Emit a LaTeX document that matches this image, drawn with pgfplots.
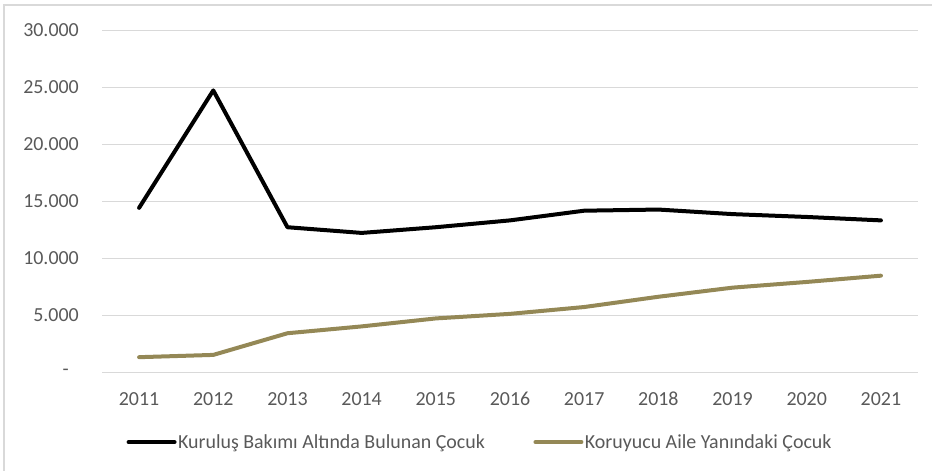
\documentclass[border=0pt]{standalone}
\usepackage{fontspec}
\setmainfont{Carlito}
\usepackage{pgfplots}
\pgfplotsset{compat=1.18}
\definecolor{txtgray}{RGB}{89,89,89}
\definecolor{gridgray}{RGB}{217,217,217}
\definecolor{gold}{RGB}{148,136,86}
\newcommand{\lblfont}{\fontsize{20}{24}\selectfont}

\begin{document}
\begin{tikzpicture}
\useasboundingbox (0,0) rectangle (932bp,-471bp);
% chart frame (only top and left edges visible)
\draw[gridgray, line width=1.2bp] (4bp,-471bp) -- (4bp,-5bp) -- (932bp,-5bp);
\begin{axis}[
  at={(102bp,-372bp)}, anchor=south west,
  scale only axis, width=816bp, height=342bp,
  xmin=-0.5, xmax=10.5, ymin=0, ymax=30000,
  scaled y ticks=false,
  axis line style={draw=none},
  tick style={draw=none},
  ymajorgrids,
  grid style={gridgray, line width=1bp},
  xtick={0,...,10},
  xticklabels={2011,2012,2013,2014,2015,2016,2017,2018,2019,2020,2021},
  ytick={0,5000,10000,15000,20000,25000,30000},
  yticklabels={{-\hspace*{10bp}},5.000,10.000,15.000,20.000,25.000,30.000},
  ticklabel style={font=\lblfont, text=txtgray},
  xticklabel style={anchor=base, inner sep=0pt, yshift=-33bp},
  yticklabel style={anchor=east, inner sep=0pt, xshift=-23bp},
  legend columns=2,
  legend cell align=left,
  legend style={at={(0.463,-0.205)}, anchor=center, draw=none, fill=none,
    font=\lblfont, text=txtgray, inner sep=0pt,
    nodes={inner sep=1.5bp},
    /tikz/every even column/.append style={column sep=47bp}},
  legend image code/.code={\draw[#1] (0bp,0bp) -- (46bp,0bp);},
]
\addplot[black, line width=4bp, line join=round, line cap=round] coordinates {
  (0,14400) (1,24700) (2,12700) (3,12200) (4,12700) (5,13300)
  (6,14150) (7,14250) (8,13850) (9,13600) (10,13300)
};
\addlegendentry{Kuruluş Bakımı Altında Bulunan Çocuk}
\addplot[gold, line width=4bp, line join=round, line cap=round] coordinates {
  (0,1300) (1,1500) (2,3400) (3,4000) (4,4700) (5,5100)
  (6,5700) (7,6600) (8,7400) (9,7900) (10,8450)
};
\addlegendentry{Koruyucu Aile Yanındaki Çocuk}
\end{axis}
\end{tikzpicture}
\end{document}
